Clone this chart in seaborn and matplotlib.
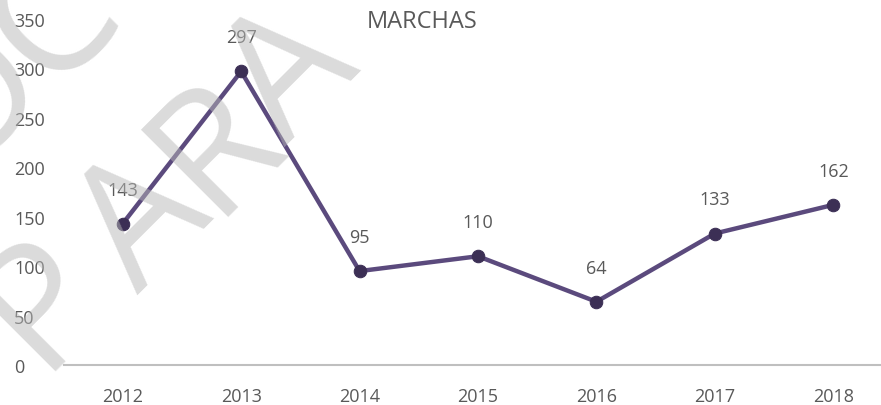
import pandas as pd
import seaborn as sns
import matplotlib.pyplot as plt

# Data
years = ['2012', '2013', '2014', '2015', '2016', '2017', '2018']
marchas = [143, 297, 95, 110, 64, 133, 162]
y_ticks = [0, 50, 100, 150, 200, 250, 300, 350]

df = pd.DataFrame({'year': years, 'marchas': marchas})

sns.set_style('white')
plt.rcParams['font.family'] = ['Open Sans', 'DejaVu Sans']

W, H = 881, 406
fig = plt.figure(figsize=(W / 100, H / 100), dpi=100)

# plot area in pixels (right edge is cut by the figure border)
left, right = 63.5, 892.5
bottom, top = 366, 20
ax = fig.add_axes([left / W, 1 - bottom / H, (right - left) / W, (bottom - top) / H])

text_color = '#595959'

sns.lineplot(data=df, x='year', y='marchas', ax=ax, color='#5b4a7d',
             linewidth=3.2, marker='o', markersize=9,
             markerfacecolor='#3c2f55', markeredgecolor='#3c2f55', zorder=3)

for i, v in enumerate(marchas):
    ax.annotate(str(v), (i, v), xytext=(0, 24.5), textcoords='offset points',
                ha='center', va='center', fontsize=13, color=text_color)

ax.set_xlim(-0.5, len(years) - 0.5)
ax.set_ylim(0, 350)
ax.set_yticks(y_ticks)
ax.set_xlabel('')
ax.set_ylabel('')

for s in ['top', 'right', 'left']:
    ax.spines[s].set_visible(False)
ax.spines['bottom'].set_color('#bfbfbf')
ax.spines['bottom'].set_linewidth(1.5)

ax.tick_params(axis='both', length=0, labelsize=13, labelcolor=text_color)
ax.tick_params(axis='x', pad=16)
ax.tick_params(axis='y', pad=35.5)
for lab in ax.get_yticklabels():
    lab.set_horizontalalignment('left')

fig.text(422 / W, 1 - 22 / H, 'MARCHAS', ha='center', va='center',
         fontsize=17, color=text_color)

# watermark letters, drawn over the chart
wm = dict(color='#b8b8b8', alpha=0.5, fontsize=124, rotation=45,
          rotation_mode='anchor', ha='center', va='center', zorder=10)
for ch, (px, py) in [('O', (-28, 98)), ('C', (55, 20)),
                     ('P', (44, 303)), ('A', (145, 225)),
                     ('R', (217, 147)), ('A', (292, 77))]:
    fig.text(px / W, 1 - py / H, ch, **wm)

fig.savefig('out.png', dpi=100)
